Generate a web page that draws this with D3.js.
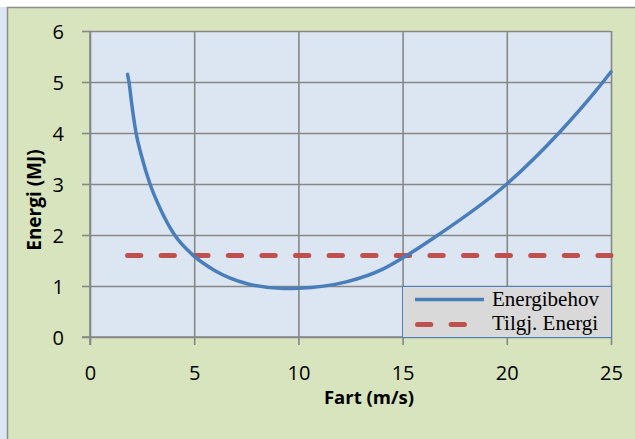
<!DOCTYPE html>
<html>
<head>
<meta charset="utf-8">
<script src="https://cdn.jsdelivr.net/npm/d3@7"></script>
<style>
  html, body { margin: 0; padding: 0; background: #ffffff; }
  svg { display: block; }
</style>
</head>
<body>
<svg id="chart" width="635" height="439"></svg>
<script>
// ---- data ----
const xTicks = [0, 5, 10, 15, 20, 25];
const yTicks = [0, 1, 2, 3, 4, 5, 6];
const speed = [1.8, 1.87, 2.0, 2.21, 2.48, 2.88, 3.40, 4.06, 4.96, 6.0, 7.5, 9.3, 10.0, 12.3, 14.0, 15.2, 16.7, 20.0, 22.5, 24.3, 25.0];
const energyNeed = [5.15, 5.0, 4.58, 4.0, 3.54, 3.0, 2.49, 2.0, 1.6, 1.3, 1.05, 0.95, 0.955, 1.08, 1.32, 1.6, 2.0, 3.0, 4.0, 4.84, 5.2];
const availSpeed = [1.8, 25];
const availEnergy = [1.6, 1.6];
const seriesNames = ["Energibehov", "Tilgj. Energi"];
const xTitle = "Fart (m/s)";
const yTitle = "Energi (MJ)";

// ---- layout ----
const svg = d3.select("#chart");
const W = 635, H = 439;
const L = 90, R = 611, T = 31, B = 337;
const x = d3.scaleLinear().domain([0, 25]).range([L, R]);
const y = d3.scaleLinear().domain([0, 6]).range([B, T]);
const gridColor = "#878787";
const font = "'Open Sans', 'Noto Sans', sans-serif";

// backgrounds
svg.append("rect").attr("x", 0).attr("y", 0).attr("width", W).attr("height", H).attr("fill", "#dce6f2");
svg.append("rect").attr("x", 0).attr("y", 0).attr("width", W).attr("height", 7).attr("fill", "#ffffff");
svg.append("rect").attr("x", 7).attr("y", 7).attr("width", W - 7).attr("height", H - 7).attr("fill", "#d7e4bd");
svg.append("path").attr("d", `M7.5,${H}V7.5H${W}`).attr("fill", "none").attr("stroke", "#8c8c8c").attr("stroke-width", 1.5);
svg.append("rect").attr("x", L).attr("y", T).attr("width", R - L).attr("height", B - T).attr("fill", "#dce6f2");

// gridlines
const gx = svg.append("g").attr("transform", `translate(0,${B})`)
  .call(d3.axisBottom(x).tickValues(xTicks).tickSize(-(B - T)).tickFormat(""));
gx.select(".domain").remove();
gx.selectAll("line").attr("stroke", gridColor).attr("stroke-width", 1.6);
const gy = svg.append("g").attr("transform", `translate(${L},0)`)
  .call(d3.axisLeft(y).tickValues(yTicks).tickSize(-(R - L)).tickFormat(""));
gy.select(".domain").remove();
gy.selectAll("line").attr("stroke", gridColor).attr("stroke-width", 1.6);

// axes with outside ticks
const ax = svg.append("g").attr("transform", `translate(0,${B})`)
  .call(d3.axisBottom(x).tickValues(xTicks).tickSize(8).tickPadding(0).tickFormat(d3.format("d")));
ax.select(".domain").attr("stroke", gridColor).attr("stroke-width", 1.6).attr("d", `M${L - 8},0H${R}`);
ax.selectAll("line").attr("stroke", gridColor).attr("stroke-width", 1.6);
ax.selectAll("text").attr("y", 43).attr("dy", 0).attr("fill", "#000")
  .style("font-family", font).style("font-size", "20px");

const ay = svg.append("g").attr("transform", `translate(${L},0)`)
  .call(d3.axisLeft(y).tickValues(yTicks).tickSize(8).tickPadding(18).tickFormat(d3.format("d")));
ay.select(".domain").attr("stroke", gridColor).attr("stroke-width", 1.6).attr("d", `M0,${B + 8}V${T}`);
ay.selectAll("line").attr("stroke", gridColor).attr("stroke-width", 1.6);
ay.selectAll("text").attr("dy", "0.36em").attr("fill", "#000")
  .style("font-family", font).style("font-size", "20px");

// axis titles
svg.append("text").attr("x", 369).attr("y", 404).attr("text-anchor", "middle")
  .style("font-family", font).style("font-size", "18.5px").style("font-weight", "bold").text(xTitle);
svg.append("text").attr("transform", "translate(41,200) rotate(-90)").attr("text-anchor", "middle")
  .style("font-family", font).style("font-size", "19px").style("font-weight", "bold").text(yTitle);

// series
const needData = speed.map((v, i) => [v, energyNeed[i]]);
const availData = availSpeed.map((v, i) => [v, availEnergy[i]]);
const straight = d3.line().x(d => x(d[0])).y(d => y(d[1]));
const smooth = d3.line().x(d => x(d[0])).y(d => y(d[1])).curve(d3.curveMonotoneX);

svg.append("path").datum(availData)
  .attr("d", straight)
  .attr("fill", "none").attr("stroke", "#c0504d").attr("stroke-width", 5)
  .attr("stroke-linecap", "round").attr("stroke-dasharray", "13.3,20.3");

svg.append("path").datum(needData)
  .attr("d", smooth)
  .attr("fill", "none").attr("stroke", "#4a7ebb").attr("stroke-width", 3.5)
  .attr("stroke-linecap", "round");

// legend
const lg = svg.append("g");
lg.append("rect").attr("x", 402.5).attr("y", 286.5).attr("width", 209).attr("height", 51)
  .attr("fill", "#d9d9d9").attr("stroke", "#4f81bd").attr("stroke-width", 1);
lg.append("line").attr("x1", 415).attr("x2", 484).attr("y1", 299.5).attr("y2", 299.5)
  .attr("stroke", "#4a7ebb").attr("stroke-width", 3.5);
lg.append("line").attr("x1", 417.5).attr("x2", 480).attr("y1", 324.5).attr("y2", 324.5)
  .attr("stroke", "#c0504d").attr("stroke-width", 5).attr("stroke-linecap", "round")
  .attr("stroke-dasharray", "13.3,20.3");
const serif = "'Liberation Serif', 'Times New Roman', serif";
lg.append("text").attr("x", 492).attr("y", 306).style("font-family", serif).style("font-size", "21px").text(seriesNames[0]);
lg.append("text").attr("x", 492).attr("y", 330).style("font-family", serif).style("font-size", "21px").text(seriesNames[1]);
</script>
</body>
</html>
